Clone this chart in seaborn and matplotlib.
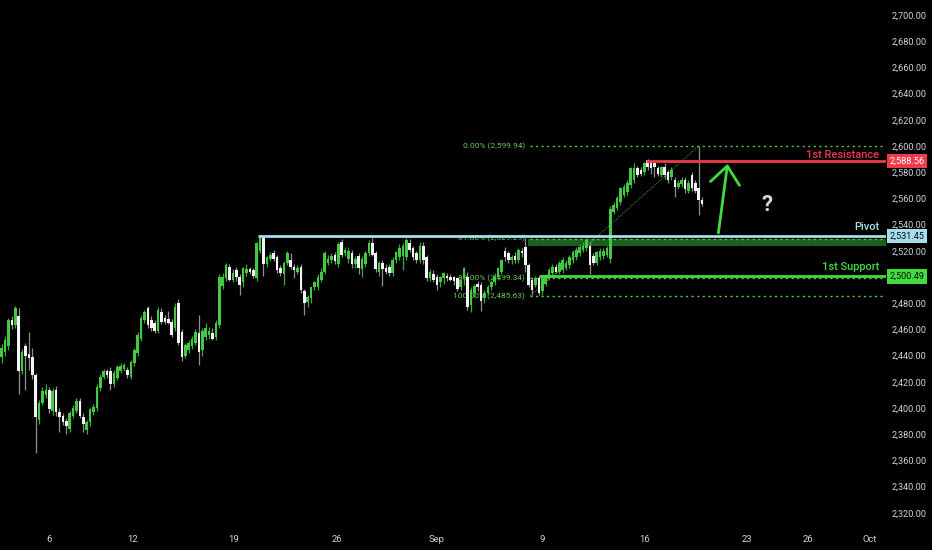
import matplotlib
matplotlib.use("Agg")
import matplotlib.pyplot as plt
import matplotlib.transforms as mtransforms
import numpy as np
import pandas as pd
import seaborn as sns

# 4H candles (bar index = position on the time axis)
opens = [2439, 2443, 2447, 2467, 2463, 2470, 2428, 2447, 2441, 2439,
         2425, 2391, 2404, 2410, 2414, 2398, 2414, 2397, 2394, 2390,
         2384, 2394, 2398, 2405, 2393, 2383, 2389, 2397, 2400, 2415,
         2424, 2428, 2428, 2418, 2423, 2428, 2430, 2429, 2424, 2434,
         2442, 2453, 2467, 2476, 2467, 2465, 2459, 2473, 2469, 2468,
         2466, 2461, 2480, 2458, 2440, 2444, 2447, 2450, 2457, 2444,
         2454, 2456, 2457, 2454, 2463, 2493, 2499, 2508, 2498, 2505,
         2500, 2496, 2503, 2506, 2505, 2499, 2520, 2530, 2510, 2514,
         2518, 2515, 2507, 2502, 2511, 2513, 2508, 2504, 2508, 2489,
         2481, 2484, 2492, 2492, 2498, 2504, 2511, 2513, 2517, 2510,
         2527, 2518, 2514, 2518, 2510, 2516, 2506, 2510, 2518, 2526,
         2518, 2504, 2511, 2507, 2508, 2503, 2513, 2515, 2516, 2515,
         2526, 2522, 2518, 2513, 2524, 2515, 2499, 2502, 2500, 2496,
         2499, 2501, 2500, 2500, 2499, 2492, 2499, 2500, 2479, 2488,
         2495, 2494, 2484, 2488, 2492, 2496, 2500, 2504, 2520, 2518,
         2513, 2516, 2513, 2520, 2523, 2509, 2498, 2494, 2499, 2489,
         2495, 2500, 2503, 2508, 2504, 2505, 2507, 2509, 2513, 2515,
         2518, 2521, 2522, 2524, 2516, 2511, 2515, 2516, 2517, 2514,
         2550, 2553, 2557, 2563, 2565, 2570, 2574, 2583, 2582, 2580,
         2589, 2588, 2587, 2583, 2578, 2584, 2580, 2576, 2574, 2569,
         2571, 2574, 2566, 2578, 2572, 2568, 2559]
highs = [2449, 2455, 2469, 2470, 2478, 2476, 2445, 2450, 2458, 2446,
         2427, 2406, 2416, 2418, 2416, 2415, 2417, 2400, 2396, 2392,
         2398, 2402, 2408, 2408, 2396, 2391, 2400, 2403, 2418, 2426,
         2430, 2430, 2431, 2429, 2433, 2434, 2434, 2431, 2437, 2446,
         2458, 2471, 2475, 2478, 2470, 2467, 2477, 2476, 2471, 2474,
         2468, 2480, 2483, 2460, 2450, 2452, 2455, 2460, 2471, 2461,
         2465, 2462, 2461, 2467, 2502, 2503, 2511, 2510, 2506, 2508,
         2502, 2508, 2510, 2508, 2507, 2527, 2531.5, 2531, 2516, 2519,
         2521, 2517, 2509, 2512, 2520, 2518, 2510, 2509, 2510, 2491,
         2486, 2492, 2497, 2502, 2507, 2520, 2517, 2518, 2519, 2527,
         2529, 2523, 2523, 2521, 2516, 2518, 2516, 2520, 2528, 2530,
         2520, 2512, 2513, 2510, 2510, 2515, 2520, 2525, 2526, 2530,
         2529, 2524, 2520, 2527, 2527, 2517, 2506, 2505, 2502, 2501,
         2504, 2503, 2502, 2501, 2500, 2500, 2508, 2504, 2492, 2495,
         2497, 2496, 2490, 2494, 2498, 2503, 2508, 2514, 2523, 2520,
         2517, 2519, 2522, 2522, 2530, 2511, 2500, 2501, 2501, 2500,
         2502, 2507, 2510, 2510, 2512, 2515, 2513, 2517, 2521, 2523,
         2525, 2527, 2530, 2527, 2518, 2520, 2522, 2522, 2524, 2554,
         2557, 2562, 2569, 2571, 2574, 2584, 2587, 2585, 2584, 2588,
         2590, 2589, 2588, 2585, 2585, 2587, 2582, 2584, 2576, 2574,
         2576, 2576, 2574, 2580, 2574, 2599.94, 2561]
lows = [2434, 2440, 2444, 2460, 2461, 2411, 2426, 2414, 2429, 2422,
        2366, 2388, 2402, 2408, 2396, 2395, 2394, 2382, 2387, 2380,
        2382, 2392, 2396, 2392, 2382, 2380, 2386, 2395, 2398, 2413,
        2422, 2423, 2414, 2416, 2421, 2427, 2428, 2423, 2422, 2432,
        2440, 2451, 2465, 2461, 2459, 2457, 2457, 2464, 2464, 2464,
        2454, 2459, 2448, 2436, 2438, 2442, 2445, 2448, 2433, 2440,
        2452, 2453, 2452, 2452, 2461, 2491, 2497, 2497, 2496, 2497,
        2486, 2492, 2501, 2502, 2499, 2497, 2518, 2501, 2508, 2512,
        2512, 2503, 2501, 2494, 2509, 2506, 2499, 2502, 2488, 2471,
        2477, 2480, 2490, 2490, 2496, 2502, 2509, 2511, 2510, 2508,
        2515, 2516, 2511, 2507, 2507, 2502, 2500, 2508, 2516, 2516,
        2504, 2501, 2493, 2502, 2501, 2501, 2511, 2513, 2505, 2513,
        2519, 2513, 2511, 2511, 2510, 2497, 2497, 2496, 2490, 2492,
        2495, 2497, 2497, 2494, 2489, 2490, 2494, 2475, 2473, 2485,
        2489, 2474, 2480, 2486, 2490, 2494, 2498, 2502, 2512, 2511,
        2510, 2511, 2511, 2515, 2504, 2492, 2486, 2492, 2486, 2486,
        2493, 2498, 2501, 2503, 2502, 2503, 2505, 2507, 2511, 2513,
        2516, 2519, 2520, 2502, 2509, 2509, 2513, 2514, 2515, 2511,
        2548, 2551, 2555, 2561, 2563, 2568, 2572, 2576, 2577, 2578,
        2582, 2579, 2576, 2577, 2576, 2575, 2572, 2574, 2561, 2567,
        2569, 2564, 2564, 2566, 2564, 2547, 2554]
closes = [2446, 2452, 2467, 2463, 2476, 2428, 2443, 2440, 2438, 2425,
          2393, 2404, 2413, 2414, 2399, 2413, 2397, 2393, 2389, 2386,
          2396, 2400, 2405, 2394, 2388, 2389, 2399, 2401, 2416, 2424,
          2428, 2425, 2418, 2427, 2431, 2432, 2433, 2425, 2435, 2444,
          2456, 2469, 2473, 2463, 2461, 2459, 2475, 2466, 2466, 2465,
          2456, 2477, 2450, 2439, 2448, 2450, 2453, 2458, 2443, 2459,
          2461, 2459, 2453, 2465, 2500, 2500, 2509, 2498, 2503, 2500,
          2494, 2507, 2506, 2504, 2501, 2526, 2530, 2510, 2515, 2517,
          2514, 2505, 2503, 2511, 2518, 2508, 2505, 2507, 2490, 2480,
          2485, 2492, 2496, 2500, 2504, 2518, 2514, 2516, 2512, 2525,
          2517, 2521, 2520, 2510, 2514, 2507, 2514, 2518, 2526, 2517,
          2506, 2511, 2506, 2504, 2503, 2513, 2519, 2522, 2524, 2528,
          2521, 2515, 2513, 2524, 2513, 2499, 2504, 2498, 2494, 2500,
          2503, 2499, 2498, 2497, 2491, 2498, 2507, 2477, 2490, 2493,
          2492, 2482, 2488, 2492, 2496, 2501, 2507, 2513, 2515, 2513,
          2515, 2513, 2521, 2518, 2509, 2494, 2490, 2499, 2488, 2499,
          2500, 2505, 2508, 2504, 2511, 2513, 2511, 2515, 2519, 2521,
          2523, 2524, 2528, 2509, 2511, 2519, 2520, 2520, 2522, 2552,
          2555, 2560, 2568, 2569, 2572, 2583, 2583, 2578, 2579, 2587,
          2584, 2583, 2584, 2579, 2584, 2578, 2574, 2582, 2569, 2572,
          2574, 2567, 2572, 2568, 2566, 2559, 2556]

# key levels
resistance = 2588.56
pivot = 2531.45
support = 2500.49
fib_levels = [0.0, 61.8, 88.0, 100.0]
fib_prices = [2599.94, 2529.29, 2499.34, 2485.63]

# time axis
date_ticks = [13.9, 38.5, 68.3, 98.6, 127.8, 159.0, 189.2, 219.2, 237.1, 255.4]
date_labels = ['6', '12', '19', '26', 'Sep', '9', '16', '23', '26', 'Oct']
price_ticks = np.arange(2320, 2701, 20)

df = pd.DataFrame({'open': opens, 'high': highs, 'low': lows, 'close': closes})
df['bar'] = np.arange(len(df))
df['up'] = df['close'] >= df['open']

BG = '#000000'
TXT = '#d1d4dc'
GREEN_BODY = '#43c943'
WHITE_BODY = '#f4f4f4'
RED = '#ef3b4b'
CYAN = '#a6deee'
LIME = '#41dc3f'
FIB = '#5ccc4a'

sns.set_theme(style='dark', rc={'axes.facecolor': BG, 'figure.facecolor': BG,
                                'axes.edgecolor': BG, 'axes.grid': False})
plt.rcParams['font.family'] = ['Roboto', 'DejaVu Sans']

fig = plt.figure(figsize=(9.32, 5.5), dpi=100)
ax = fig.add_axes([0, 27 / 550, 886 / 932, 523 / 550])
ax.set_facecolor(BG)

xmin, xmax = -0.5, 260.1
ax.set_xlim(xmin, xmax)
ax.set_ylim(2312.2, 2711.5)

# fib zone + levels (behind the candles)
ax.fill_between([154.8, xmax], 2523.4, fib_prices[1], color='#1b5f1d', lw=0, zorder=1)
for lvl, pr in zip(fib_levels, fib_prices):
    ax.hlines(pr, 155.5, xmax, colors=FIB, lw=1, linestyles=(0, (1.5, 2.5)), zorder=1)
    ax.text(154.0, pr, f'{lvl:.2f}% ({pr:,.2f})', color=FIB, fontsize=6,
            ha='right', va='center', zorder=2)
diag = pd.DataFrame({'bar': [155.5, 205.0], 'price': [fib_prices[3], fib_prices[0]]})
sns.lineplot(data=diag, x='bar', y='price', ax=ax, color=FIB, lw=0.6,
             linestyle=(0, (1, 1.5)), zorder=2)

# candles
up = df[df['up']]
dn = df[~df['up']]
ax.vlines(up['bar'], up['low'], up['high'], color='#3aa93a', lw=0.9, zorder=3)
ax.vlines(dn['bar'], dn['low'], dn['high'], color='#8f8f8f', lw=0.9, zorder=3)
ax.bar(up['bar'], (up['close'] - up['open']).clip(lower=0.6), bottom=up['open'],
       width=0.74, color=GREEN_BODY, lw=0, zorder=4)
ax.bar(dn['bar'], (dn['open'] - dn['close']).clip(lower=0.6), bottom=dn['close'],
       width=0.74, color=WHITE_BODY, lw=0, zorder=4)

# support / resistance lines
ax.hlines(pivot, 75.5, xmax, colors=CYAN, lw=2, zorder=5)
ax.hlines(resistance, 189.5, xmax, colors=RED, lw=2, zorder=5)
ax.hlines(support, 158.0, xmax, colors=LIME, lw=2, zorder=5)

ax.text(258.2, resistance + 4.6, '1st Resistance', color=RED, fontsize=8,
        fontweight='medium', ha='right', va='center', zorder=6)
ax.text(258.2, pivot + 6.8, 'Pivot', color=CYAN, fontsize=8,
        fontweight='medium', ha='right', va='center', zorder=6)
ax.text(258.2, support + 7.0, '1st Support', color=LIME, fontsize=8,
        fontweight='medium', ha='right', va='center', zorder=6)

# price tags on the scale
trans = mtransforms.blended_transform_factory(ax.transAxes, ax.transData)
for pr, fc, tc in [(resistance, RED, 'white'), (pivot, CYAN, '#0b0b0b'),
                   (support, LIME, '#0b0b0b')]:
    ax.text(1.004, pr, f'{pr:,.2f}', transform=trans, fontsize=6.6, color=tc,
            ha='left', va='center', zorder=7, clip_on=False,
            bbox=dict(boxstyle='square,pad=0.3', fc=fc, ec='none'))

# projected move
ax.annotate('', xy=(213.6, 2588.5), xytext=(210.7, 2531.5),
            arrowprops=dict(arrowstyle='->,head_length=0.9,head_width=0.75',
                            color=LIME, lw=2, mutation_scale=14), zorder=6)
ax.text(225.1, 2555, '?', color='#d8d8d8', fontsize=16, fontweight='bold',
        ha='center', va='center', zorder=6)

# axes styling (the 2,500 label sits under the support tag)
ax.yaxis.tick_right()
ax.set_yticks(price_ticks)
ax.set_yticklabels(['' if p == 2500 else f'{p:,.2f}' for p in price_ticks])
ax.set_xticks(date_ticks)
ax.set_xticklabels(date_labels)
ax.tick_params(axis='y', length=0, pad=4, labelsize=6.6, colors=TXT)
ax.tick_params(axis='x', length=0, pad=9, labelsize=6.8, colors=TXT)
ax.set_xlabel('')
ax.set_ylabel('')
for sp in ax.spines.values():
    sp.set_visible(False)
if ax.get_legend():
    ax.get_legend().remove()

fig.savefig('out.png', dpi=100, facecolor=BG)
